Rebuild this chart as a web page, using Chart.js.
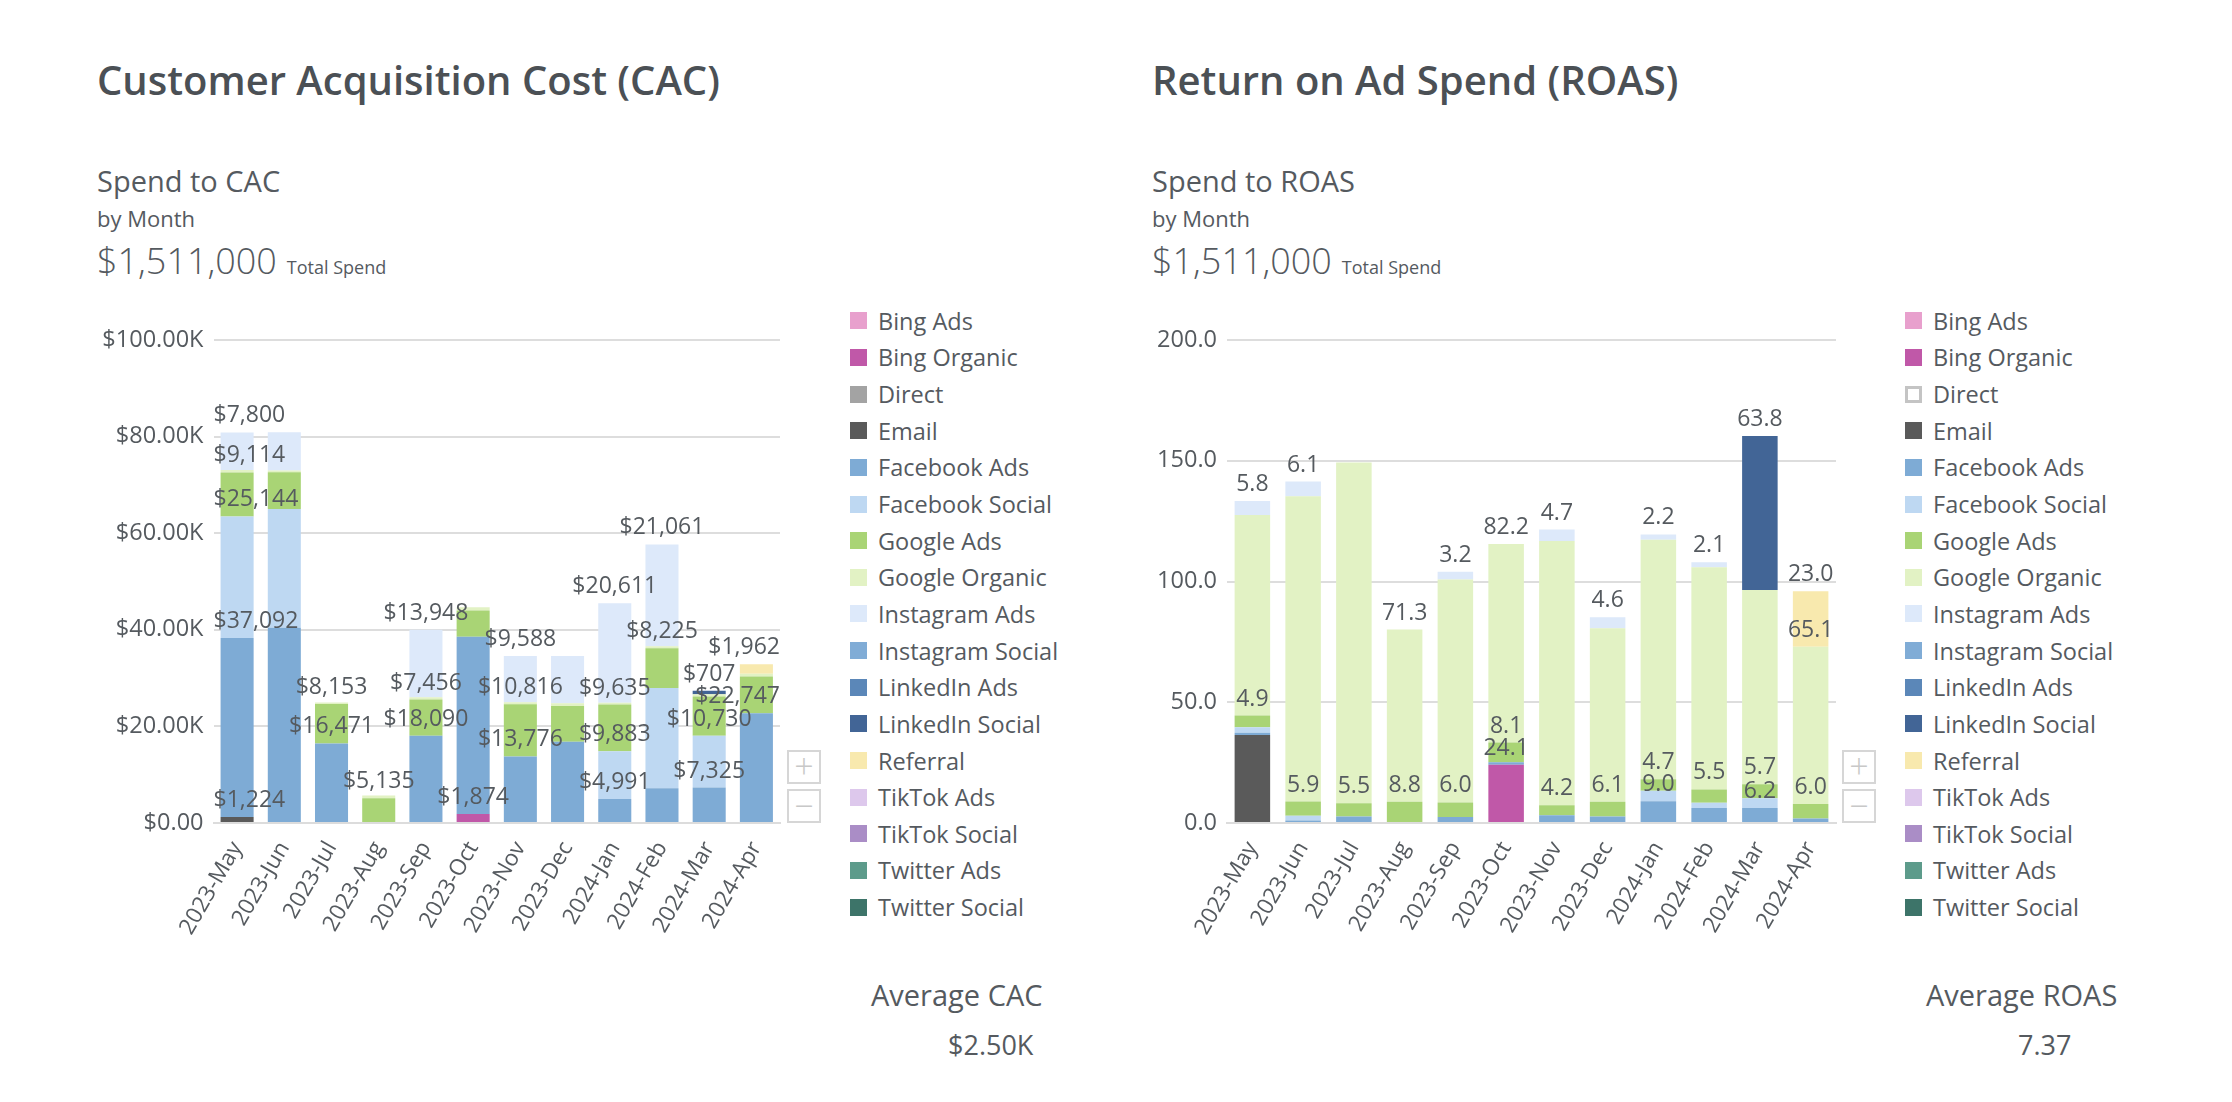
<!DOCTYPE html>
<html>
<head>
<meta charset="utf-8">
<title>CAC and ROAS by Month</title>
<script src="https://cdn.jsdelivr.net/npm/chart.js@4.4.1/dist/chart.umd.min.js"></script>
<style>
  body { margin: 0; width: 2232px; height: 1102px; background: #fff; overflow: hidden;
         font-family: 'Open Sans', sans-serif; color: #555a5f; position: relative; }
  .t { position: absolute; white-space: nowrap; line-height: 1; }
  .title { font-size: 40px; font-weight: 600; color: #4b5055; }
  .sub { font-size: 29px; font-weight: 400; }
  .by { font-size: 22px; font-weight: 400; }
  .total { font-size: 36px; font-weight: 300; }
  .total small { font-size: 18px; font-weight: 400; margin-left: 10px; }
  .avg { font-size: 29px; }
  .avgval { font-size: 27px; }
  canvas { position: absolute; }
  .legend { position: absolute; font-size: 23.5px; color: #555a5f; }
  .legend div { height: 36.65px; display: flex; align-items: center; white-space: nowrap; }
  .legend span.box { width: 17px; height: 17px; margin-right: 11px; box-sizing: border-box; }
  .zbtn { position: absolute; width: 34px; height: 34px; box-sizing: border-box; border: 2px solid #d6d6d6;
          color: #c8c8c8; font-size: 34px; font-weight: 300; line-height: 28px; text-align: center; }
</style>
</head>
<body>
<div id="root"></div>
<script>
// --- shared categories and series ---
const months = ['2023-May', '2023-Jun', '2023-Jul', '2023-Aug', '2023-Sep', '2023-Oct',
                '2023-Nov', '2023-Dec', '2024-Jan', '2024-Feb', '2024-Mar', '2024-Apr'];
const channels = ['Bing Ads', 'Bing Organic', 'Direct', 'Email', 'Facebook Ads', 'Facebook Social',
                  'Google Ads', 'Google Organic', 'Instagram Ads', 'Instagram Social', 'LinkedIn Ads',
                  'LinkedIn Social', 'Referral', 'TikTok Ads', 'TikTok Social', 'Twitter Ads', 'Twitter Social'];
const channelColors = ['#e8a0cd', '#c058a8', '#a3a3a3', '#5a5a5a', '#7eabd5', '#bed8f2',
                       '#a9d475', '#e2f2c4', '#dde9fa', '#80acd6', '#5b87b8',
                       '#426596', '#f8e9ae', '#ddc8ec', '#aa8dc6', '#5d9b8b', '#3d7469'];

// --- CAC: spend per channel ($) ---
const cacBingOrganic   = [0, 0, 0, 0, 0, 1874, 0, 0, 0, 0, 0, 0];
const cacEmail         = [1224, 0, 0, 0, 0, 0, 0, 0, 0, 0, 0, 0];
const cacFacebookAds   = [37092, 40400, 16471, 0, 18090, 36700, 13776, 16800, 4991, 7200, 7325, 22747];
const cacFacebookSoc   = [25144, 24600, 0, 0, 0, 0, 0, 0, 9883, 20775, 10730, 0];
const cacGoogleAds     = [9114, 7600, 8153, 5135, 7456, 5400, 10816, 7400, 9635, 8225, 8150, 7600];
const cacGoogleOrganic = [500, 400, 350, 550, 500, 700, 400, 600, 400, 400, 450, 550];
const cacInstagramAds  = [7800, 7900, 0, 0, 13948, 0, 9588, 9800, 20611, 21061, 0, 0];
const cacLinkedInSoc   = [0, 0, 0, 0, 0, 0, 0, 0, 0, 0, 707, 0];
const cacReferral      = [0, 0, 0, 0, 0, 0, 0, 0, 0, 0, 0, 1962];
const cacTicks = [0, 20000, 40000, 60000, 80000, 100000];
// segments whose value is printed: [channel, month index]
const cacLabelCells = [
  ['Email', 0], ['Bing Organic', 5],
  ['Facebook Ads', 0], ['Facebook Ads', 2], ['Facebook Ads', 4], ['Facebook Ads', 6],
  ['Facebook Ads', 8], ['Facebook Ads', 10], ['Facebook Ads', 11],
  ['Facebook Social', 0], ['Facebook Social', 8], ['Facebook Social', 10],
  ['Google Ads', 0], ['Google Ads', 2], ['Google Ads', 3], ['Google Ads', 4],
  ['Google Ads', 6], ['Google Ads', 8], ['Google Ads', 9],
  ['Instagram Ads', 0], ['Instagram Ads', 4], ['Instagram Ads', 6], ['Instagram Ads', 8], ['Instagram Ads', 9],
  ['LinkedIn Social', 10], ['Referral', 11]
];

// --- ROAS per channel ---
const roasBingOrganic   = [0, 0, 0, 0, 0, 24.1, 0, 0, 0, 0, 0, 0];
const roasEmail         = [36.4, 0, 0, 0, 0, 0, 0, 0, 0, 0, 0, 0];
const roasFacebookAds   = [1.0, 1.0, 2.7, 0, 2.5, 1.1, 3.2, 2.7, 9.0, 6.2, 6.2, 1.9];
const roasFacebookSoc   = [2.2, 2.0, 0, 0, 0, 0, 0, 0, 4.4, 2.2, 4.1, 0];
const roasGoogleAds     = [4.9, 5.9, 5.5, 8.8, 6.0, 8.1, 4.2, 6.1, 4.7, 5.5, 5.7, 6.0];
const roasGoogleOrganic = [83.0, 126.4, 141.1, 71.3, 92.3, 82.2, 109.4, 71.8, 99.2, 92.0, 80.5, 65.1];
const roasInstagramAds  = [5.8, 6.1, 0, 0, 3.2, 0, 4.7, 4.6, 2.2, 2.1, 0, 0];
const roasLinkedInSoc   = [0, 0, 0, 0, 0, 0, 0, 0, 0, 0, 63.8, 0];
const roasReferral      = [0, 0, 0, 0, 0, 0, 0, 0, 0, 0, 0, 23.0];
const roasTicks = [0, 50, 100, 150, 200];
const roasHollow = ['Direct'];
const roasLabelCells = [
  ['Bing Organic', 5], ['Facebook Ads', 8], ['Facebook Ads', 10],
  ['Google Ads', 0], ['Google Ads', 1], ['Google Ads', 2], ['Google Ads', 3], ['Google Ads', 4], ['Google Ads', 5],
  ['Google Ads', 6], ['Google Ads', 7], ['Google Ads', 8], ['Google Ads', 9], ['Google Ads', 10], ['Google Ads', 11],
  ['Google Organic', 3], ['Google Organic', 5], ['Google Organic', 11],
  ['Instagram Ads', 0], ['Instagram Ads', 1], ['Instagram Ads', 4], ['Instagram Ads', 6],
  ['Instagram Ads', 7], ['Instagram Ads', 8], ['Instagram Ads', 9],
  ['LinkedIn Social', 10], ['Referral', 11]
];

const cacSeries = {
  'Bing Organic': cacBingOrganic, 'Email': cacEmail, 'Facebook Ads': cacFacebookAds,
  'Facebook Social': cacFacebookSoc, 'Google Ads': cacGoogleAds, 'Google Organic': cacGoogleOrganic,
  'Instagram Ads': cacInstagramAds, 'LinkedIn Social': cacLinkedInSoc, 'Referral': cacReferral
};
const roasSeries = {
  'Bing Organic': roasBingOrganic, 'Email': roasEmail, 'Facebook Ads': roasFacebookAds,
  'Facebook Social': roasFacebookSoc, 'Google Ads': roasGoogleAds, 'Google Organic': roasGoogleOrganic,
  'Instagram Ads': roasInstagramAds, 'LinkedIn Social': roasLinkedInSoc, 'Referral': roasReferral
};

const FONT = "'Open Sans', sans-serif";
const TEXT = '#555a5f';
const root = document.getElementById('root');

function addText(cls, html, left, top) {
  const d = document.createElement('div');
  d.className = 't ' + cls;
  d.innerHTML = html;
  d.style.left = left + 'px';
  d.style.top = top + 'px';
  root.appendChild(d);
}

// value labels drawn just above each chosen segment, kept inside the plot area
function segmentLabels(cells, fmt) {
  return {
    id: 'segLabels',
    afterDatasetsDraw(chart) {
      const { ctx, chartArea } = chart;
      ctx.save();
      ctx.font = '23px ' + FONT;
      ctx.fillStyle = TEXT;
      ctx.textAlign = 'left';
      ctx.textBaseline = 'alphabetic';
      cells.forEach(([name, i]) => {
        const di = channels.indexOf(name);
        const bar = chart.getDatasetMeta(di).data[i];
        const txt = fmt(chart.data.datasets[di].data[i]);
        const w = ctx.measureText(txt).width;
        let x = bar.x - w / 2;
        x = Math.max(chartArea.left, Math.min(x, chartArea.right - w));
        ctx.fillText(txt, x, bar.y - 10);
      });
      ctx.restore();
    }
  };
}

function buildPanel(p) {
  const dx = p.offset;
  addText('title', p.title, 97 + dx, 60);
  addText('sub', p.sub, 97 + dx, 166);
  addText('by', 'by Month', 97 + dx, 207);
  addText('total', '$1,511,000<small>Total Spend</small>', 97 + dx, 243);
  addText('avg', p.avgLabel, p.avgX + dx, 980);
  addText('avgval', p.avgValue, p.avgValX + dx, 1031);

  // legend
  const lg = document.createElement('div');
  lg.className = 'legend';
  lg.style.left = (850 + dx) + 'px';
  lg.style.top = '302.5px';
  channels.forEach((name, i) => {
    const row = document.createElement('div');
    const box = document.createElement('span');
    box.className = 'box';
    if (p.hollow.includes(name)) {
      box.style.border = '3px solid #c4c4c4';
      box.style.background = '#fff';
    } else {
      box.style.background = channelColors[i];
    }
    row.appendChild(box);
    row.appendChild(document.createTextNode(name));
    lg.appendChild(row);
  });
  root.appendChild(lg);

  // zoom buttons
  [['+', 750], ['\u2212', 789]].forEach(([s, top]) => {
    const b = document.createElement('div');
    b.className = 'zbtn';
    b.textContent = s;
    b.style.left = (787 + dx) + 'px';
    b.style.top = top + 'px';
    root.appendChild(b);
  });

  const cv = document.createElement('canvas');
  cv.style.left = p.canvasLeft + 'px';
  cv.style.top = '300px';
  cv.style.width = p.canvasWidth + 'px';
  cv.style.height = '700px';
  cv.width = p.canvasWidth;
  cv.height = 700;
  root.appendChild(cv);

  const datasets = channels.map((name, i) => ({
    label: name,
    data: p.series[name] || [],
    backgroundColor: channelColors[i],
    borderWidth: 0,
    barPercentage: 0.7,
    categoryPercentage: 1.0
  }));

  new Chart(cv.getContext('2d'), {
    type: 'bar',
    data: { labels: months, datasets },
    options: {
      responsive: false,
      animation: false,
      layout: { padding: { top: 40, right: 10, bottom: 0, left: 0 } },
      plugins: { legend: { display: false }, tooltip: { enabled: false } },
      scales: {
        x: {
          stacked: true,
          grid: { display: false },
          border: { display: true, color: '#dcdcdc', width: 2 },
          ticks: { color: TEXT, font: { family: FONT, size: 22.5 }, minRotation: 60, maxRotation: 60, padding: 6 },
          afterFit: s => { s.height = 177; }
        },
        y: {
          stacked: true,
          min: 0,
          max: p.ticks[p.ticks.length - 1],
          afterBuildTicks: s => { s.ticks = p.ticks.map(v => ({ value: v })); },
          grid: { color: '#dddddd', lineWidth: 2, drawTicks: false },
          border: { display: false },
          ticks: { color: TEXT, font: { family: FONT, size: 23.5 }, padding: 10, callback: p.tickFmt },
          afterFit: s => { s.width = p.axisWidth; }
        }
      }
    },
    plugins: [segmentLabels(p.labelCells, p.labelFmt)]
  });
}

buildPanel({
  offset: 0,
  title: 'Customer Acquisition Cost (CAC)',
  sub: 'Spend to CAC',
  avgLabel: 'Average CAC', avgX: 871,
  avgValue: '$2.50K', avgValX: 948,
  hollow: [],
  series: cacSeries,
  ticks: cacTicks,
  tickFmt: v => v === 0 ? '$0.00' : '$' + (v / 1000).toFixed(2) + 'K',
  labelCells: cacLabelCells,
  labelFmt: v => '$' + v.toLocaleString('en-US'),
  canvasLeft: 90, canvasWidth: 700, axisWidth: 123.5
});

buildPanel({
  offset: 1055,
  title: 'Return on Ad Spend (ROAS)',
  sub: 'Spend to ROAS',
  avgLabel: 'Average ROAS', avgX: 871,
  avgValue: '7.37', avgValX: 963,
  hollow: roasHollow,
  series: roasSeries,
  ticks: roasTicks,
  tickFmt: v => v.toFixed(1),
  labelCells: roasLabelCells,
  labelFmt: v => v.toFixed(1),
  canvasLeft: 1145, canvasWidth: 701, axisWidth: 82
});
</script>
</body>
</html>
